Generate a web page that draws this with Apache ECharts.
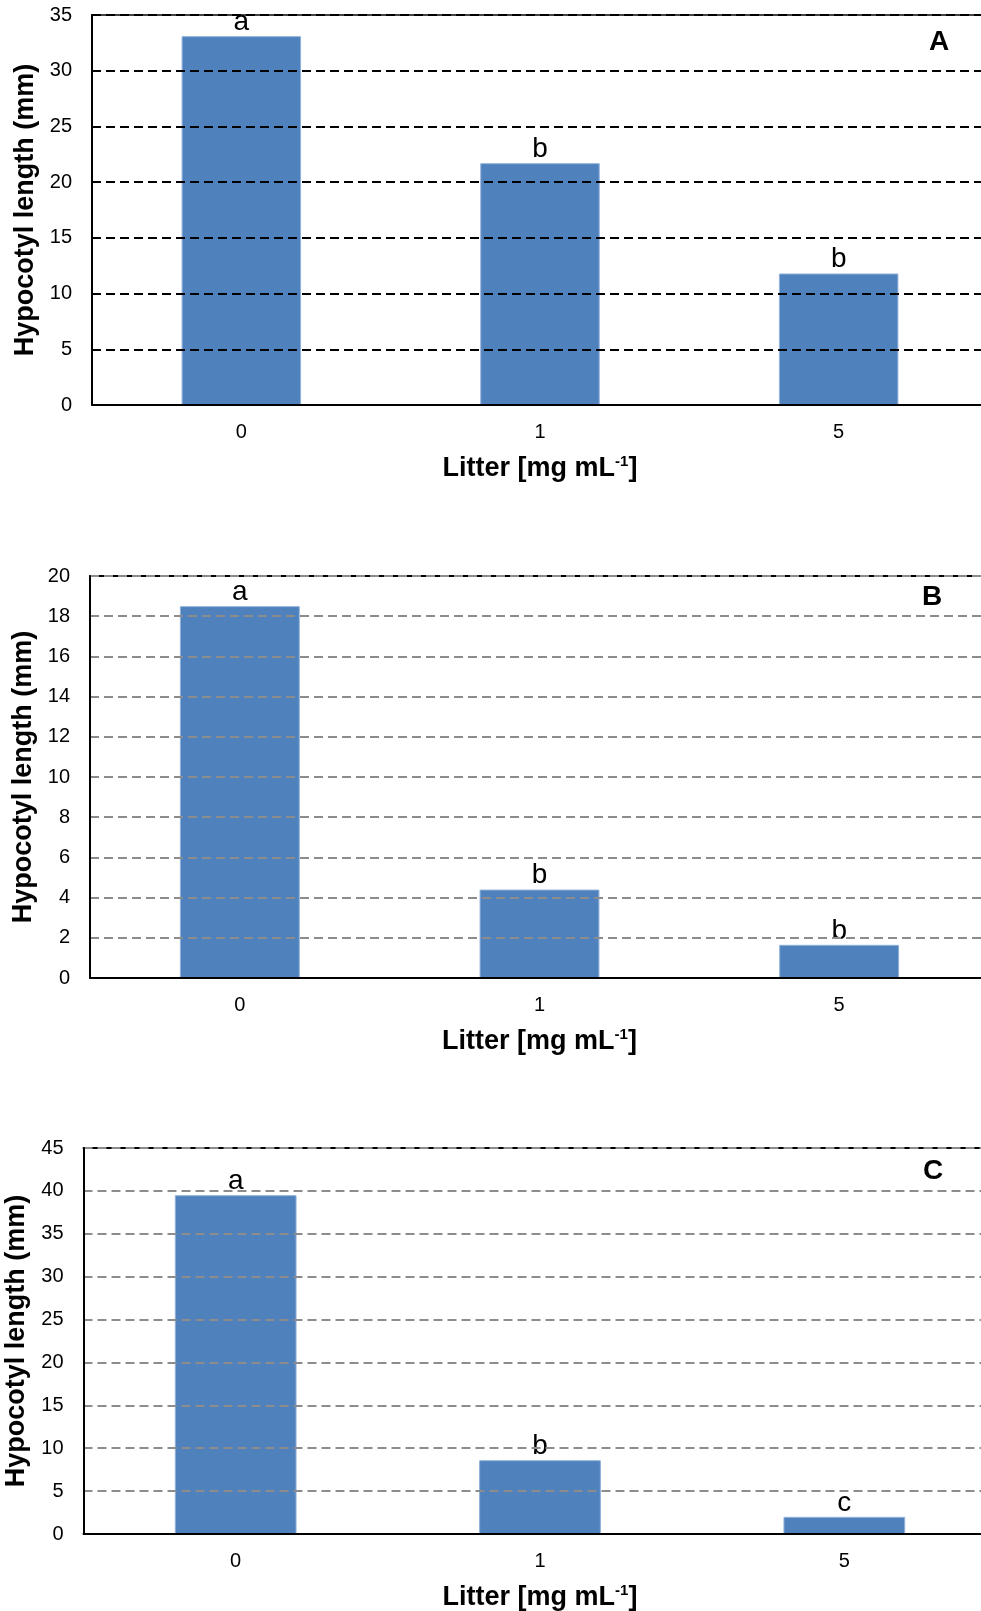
<!DOCTYPE html>
<html>
<head>
<meta charset="utf-8">
<script src="https://cdn.jsdelivr.net/npm/echarts@6/dist/echarts.min.js"></script>
<style>
html,body{margin:0;padding:0;background:#fff;}
#chart{width:981px;height:1611px;}
</style>
</head>
<body>
<div id="chart"></div>
<script>
const categories = ['0', '1', '5'];
const valuesA = [33.1, 21.7, 11.8];
const valuesB = [18.5, 4.4, 1.65];
const valuesC = [39.5, 8.6, 2.0];
const lettersA = ['a', 'b', 'b'];
const lettersB = ['a', 'b', 'b'];
const lettersC = ['a', 'b', 'c'];
const yTicksA = {min: 0, max: 35, interval: 5};
const yTicksB = {min: 0, max: 20, interval: 2};
const yTicksC = {min: 0, max: 45, interval: 5};
const panelLabels = ['A', 'B', 'C'];
const yTitle = 'Hypocotyl length (mm)';

const FONT = '"Liberation Sans", Arial, sans-serif';
const grids = [
  {left: 92, top: 15, width: 896, height: 390},
  {left: 90, top: 576, width: 899, height: 402},
  {left: 83.5, top: 1148, width: 913, height: 386}
];
const panelPos = [[929, 28], [922, 583], [923, 1157]];
const yNameGaps = [46, 46, 48];
const gridColors = ['#000', '#8c8c8c', '#8c8c8c'];
const data = [valuesA, valuesB, valuesC];
const letters = [lettersA, lettersB, lettersC];
const ticks = [yTicksA, yTicksB, yTicksC];

const xAxes = [], yAxes = [], series = [], titles = [];
for (let i = 0; i < 3; i++) {
  xAxes.push({
    type: 'category', gridIndex: i, data: categories, position: 'bottom',
    axisLine: {show: true, lineStyle: {color: '#000', width: 2}},
    axisTick: {show: false},
    axisLabel: {color: '#000', fontFamily: FONT, fontSize: 20, margin: 17},
    name: '{t|Litter [mg mL}{s|-1}{t|]}',
    nameLocation: 'middle', nameGap: 49,
    nameTextStyle: {
      rich: {
        t: {fontFamily: FONT, fontSize: 27, fontWeight: 'bold', color: '#000', lineHeight: 30},
        s: {fontFamily: FONT, fontSize: 15, fontWeight: 'bold', color: '#000', lineHeight: 18, verticalAlign: 'top'}
      }
    },
    z: 5
  });
  xAxes.push({
    type: 'category', gridIndex: i, data: categories, position: 'top',
    axisLine: {show: true, lineStyle: {color: i === 0 ? '#444' : '#000', width: 2}},
    axisTick: {show: false}, axisLabel: {show: false}, splitLine: {show: false}
  });
  yAxes.push({
    type: 'value', gridIndex: i, min: ticks[i].min, max: ticks[i].max, interval: ticks[i].interval,
    axisLine: {show: true, lineStyle: {color: '#000', width: 2}},
    axisTick: {show: false},
    axisLabel: {color: '#000', fontFamily: FONT, fontSize: 20, margin: 20},
    splitLine: {show: true, lineStyle: {color: gridColors[i], width: 2, type: [9, 5]}},
    name: yTitle, nameLocation: 'middle', nameGap: yNameGaps[i],
    nameTextStyle: {fontFamily: FONT, fontSize: 27, fontWeight: 'bold', color: '#000'},
    z: 5
  });
  const lt = letters[i];
  series.push({
    type: 'bar', xAxisIndex: i * 2, yAxisIndex: i, data: data[i], barWidth: '40%',
    itemStyle: {color: '#4F81BD', borderColor: '#8FB1DA', borderWidth: 1},
    label: {
      show: true, position: 'top', distance: 0,
      formatter: p => lt[p.dataIndex],
      fontFamily: FONT, fontSize: 28, color: '#000'
    },
    z: 3
  });
  titles.push({
    text: panelLabels[i], left: panelPos[i][0], top: panelPos[i][1], padding: 0,
    textStyle: {fontFamily: FONT, fontSize: 28, fontWeight: 'bold', color: '#000'}
  });
}

const chart = echarts.init(document.getElementById('chart'), null, {renderer: 'canvas'});
chart.setOption({
  animation: false,
  backgroundColor: '#fff',
  title: titles,
  grid: grids.map(g => Object.assign({containLabel: false, outerBoundsMode: 'none'}, g)),
  xAxis: xAxes,
  yAxis: yAxes,
  series: series
});
</script>
</body>
</html>
